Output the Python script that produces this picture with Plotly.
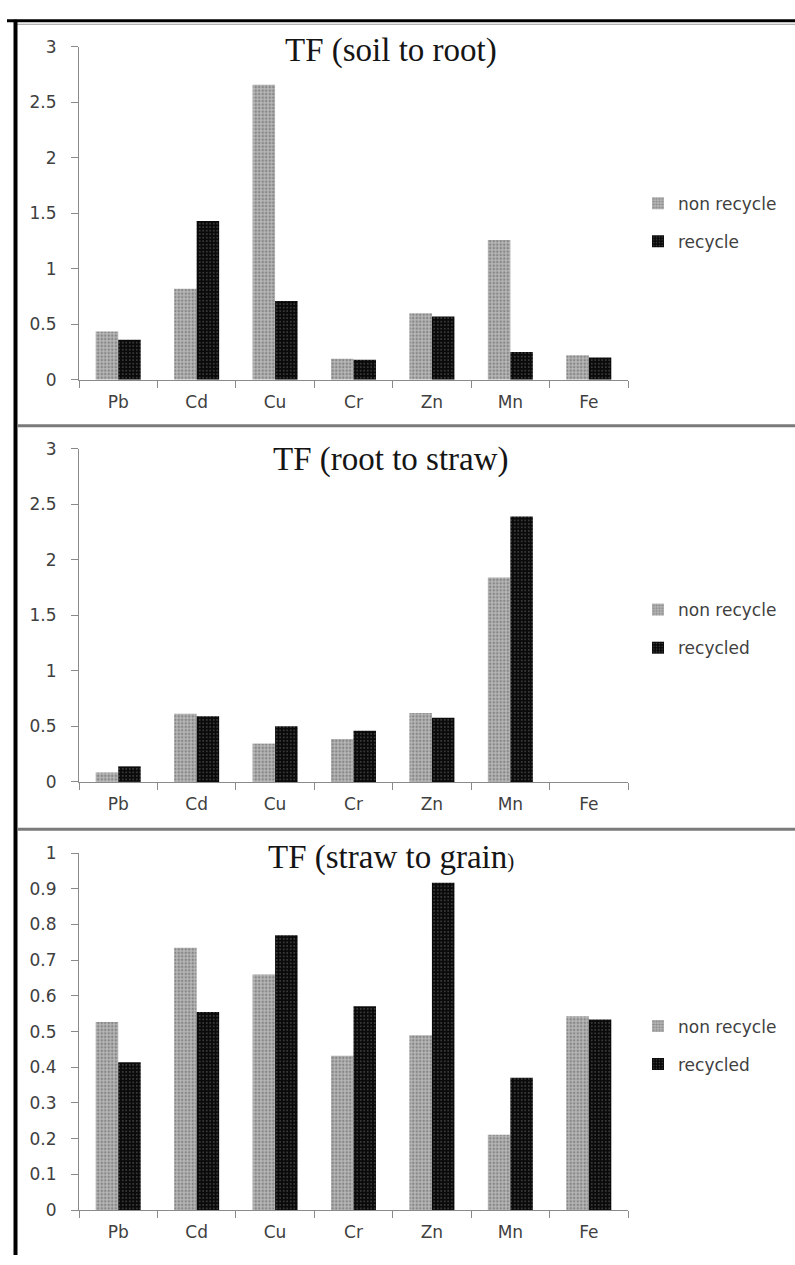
import plotly.graph_objects as go

elements = ["Pb", "Cd", "Cu", "Cr", "Zn", "Mn", "Fe"]

soil_root_non = [0.435, 0.82, 2.66, 0.19, 0.60, 1.26, 0.22]
soil_root_rec = [0.36, 1.43, 0.71, 0.18, 0.57, 0.25, 0.20]

root_straw_non = [0.085, 0.614, 0.345, 0.386, 0.62, 1.84, None]
root_straw_rec = [0.14, 0.59, 0.50, 0.46, 0.578, 2.39, None]

straw_grain_non = [0.527, 0.735, 0.66, 0.432, 0.49, 0.211, 0.543]
straw_grain_rec = [0.414, 0.555, 0.77, 0.571, 0.917, 0.371, 0.534]

titles = ["TF (soil to root)", "TF (root to straw)",
          "TF (straw to grain<span style='font-size:21px'>)</span>"]
rec_names = ["recycle", "recycled", "recycled"]

W, H = 795, 1265
def px(y):
    return 1 - y / H

NON_PAT = dict(shape=".", fgcolor="#555555", bgcolor="#b8b8b8", size=3.5, solidity=0.42)
REC_PAT = dict(shape=".", fgcolor="#8a8a8a", bgcolor="#0a0a0a", size=3.5, solidity=0.18)

fig = go.Figure()

panels = [
    (soil_root_non, soil_root_rec, (37.5, 375.7), 3, 0.5, 41, 216),
    (root_straw_non, root_straw_rec, (445.7, 784.3), 3, 0.5, 457, 629),
    (straw_grain_non, straw_grain_rec, (856.7, 1219.3), 1, 0.1, 861, 1052),
]

axis_color = "#8a8a8a"
tick_font = dict(family="DejaVu Sans", size=17, color="#404040")

layout_updates = {}
for i, (non, rec, (ytop, ybot), ymax, dt, title_y, leg_y) in enumerate(panels):
    n = i + 1
    xa = "x" if n == 1 else f"x{n}"
    ya = "y" if n == 1 else f"y{n}"
    lg = "legend" if n == 1 else f"legend{n}"
    fig.add_trace(go.Bar(x=elements, y=non, name="non recycle", xaxis=xa, yaxis=ya,
                         legend=lg, legendgroup=f"n{n}",
                         marker=dict(color="#b8b8b8", pattern=NON_PAT, line=dict(width=0))))
    fig.add_trace(go.Bar(x=elements, y=rec, name=rec_names[i], xaxis=xa, yaxis=ya,
                         legend=lg, legendgroup=f"r{n}",
                         marker=dict(color="#0a0a0a", pattern=REC_PAT, line=dict(width=0))))
    xkey = "xaxis" if n == 1 else f"xaxis{n}"
    ykey = "yaxis" if n == 1 else f"yaxis{n}"
    layout_updates[xkey] = dict(
        domain=[79 / W, 628 / W], anchor=ya, type="category",
        showline=True, linecolor=axis_color, linewidth=1,
        ticks="outside", tickson="boundaries", ticklen=7, tickcolor=axis_color,
        tickfont=tick_font, showgrid=False, zeroline=False, fixedrange=True,
        ticklabelstandoff=7,
    )
    layout_updates[ykey] = dict(
        domain=[px(ybot), px(ytop)], anchor=xa, range=[0, ymax], dtick=dt, tick0=0,
        showline=True, linecolor=axis_color, linewidth=1,
        ticks="outside", ticklen=7, tickcolor=axis_color,
        tickfont=tick_font, showgrid=False, zeroline=False, fixedrange=True,
        ticklabelstandoff=11,
    )
    layout_updates[lg] = dict(
        x=638 / W, xanchor="left", y=px(leg_y), yanchor="middle",
        font=dict(family="DejaVu Sans", size=17, color="#404040"),
        tracegroupgap=13, bgcolor="rgba(0,0,0,0)",
    )
    fig.add_annotation(text=titles[i], xref="paper", yref="paper",
                       x=391 / W, y=px(title_y), xanchor="center", yanchor="middle",
                       showarrow=False,
                       font=dict(family="Liberation Serif", size=33, color="#151515"))

fig.update_layout(**layout_updates)

shapes = [
    dict(type="line", xref="paper", yref="paper", x0=7 / W, x1=1, y0=px(11), y1=px(11),
         line=dict(color="#000000", width=3)),
    dict(type="line", xref="paper", yref="paper", x0=17 / W, x1=1, y0=px(14.5), y1=px(14.5),
         line=dict(color="#9a9a9a", width=1)),
    dict(type="line", xref="paper", yref="paper", x0=15.5 / W, x1=15.5 / W, y0=0, y1=px(10),
         line=dict(color="#000000", width=4)),
    dict(type="line", xref="paper", yref="paper", x0=17 / W, x1=1, y0=px(422.5), y1=px(422.5),
         line=dict(color="#7a7a7a", width=3)),
    dict(type="line", xref="paper", yref="paper", x0=17 / W, x1=1, y0=px(832.5), y1=px(832.5),
         line=dict(color="#7a7a7a", width=3)),
]

fig.update_layout(
    width=W, height=H, autosize=False,
    margin=dict(l=0, r=0, t=0, b=0),
    paper_bgcolor="white", plot_bgcolor="white",
    barmode="group", bargap=0.426, bargroupgap=0,
    shapes=shapes,
    showlegend=True,
)

fig.write_html("out.html", config={"displayModeBar": False},
               post_script="document.body.style.margin='0';document.body.style.overflow='hidden';")
